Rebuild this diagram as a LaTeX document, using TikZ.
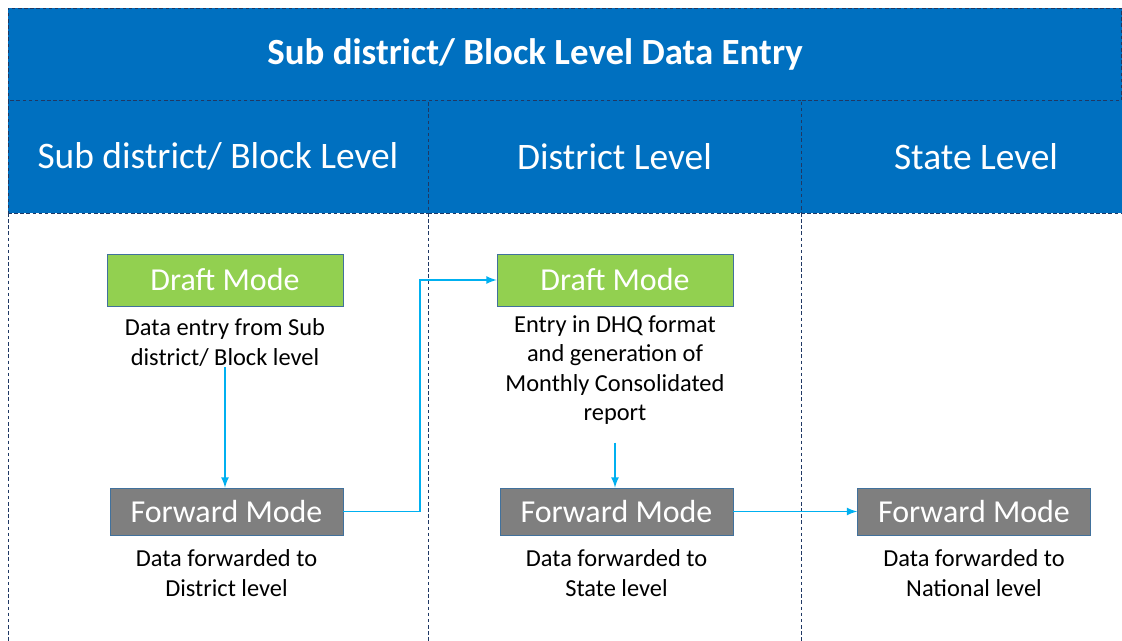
\documentclass[tikz,border=0pt]{standalone}
\usepackage{fontspec}
\setmainfont{Carlito}
\usetikzlibrary{arrows, positioning}

\definecolor{bandblue}{HTML}{0070C0}
\definecolor{edgenavy}{HTML}{1F3864}
\definecolor{draftgreen}{HTML}{92D050}
\definecolor{fwdgrey}{HTML}{7F7F7F}
\definecolor{boxedge}{HTML}{41719C}
\definecolor{flowcyan}{HTML}{00B0F0}

\begin{document}
\begin{tikzpicture}[
            x=0.02cm, y=-0.02cm,
            cell/.style={
                draw=edgenavy, fill=bandblue, dash pattern=on 2pt off 1.5pt,
                anchor=north west, inner sep=0pt, outer sep=0pt,
                minimum height=2.26cm, text=white,
                font=\fontsize{21.3}{25}\selectfont
            },
            divider/.style={draw=edgenavy, dash pattern=on 2pt off 1.5pt},
            mode/.style={
                draw=boxedge, text=white, inner sep=0pt,
                font=\fontsize{18.2}{22}\selectfont
            },
            draftbox/.style={mode, fill=draftgreen, minimum width=4.72cm, minimum height=1.04cm},
            fwdbox/.style={mode, fill=fwdgrey, minimum width=4.66cm, minimum height=0.94cm},
            note/.style={align=center, inner sep=0pt, font=\fontsize{13.9}{16.8}\selectfont},
            flow/.style={-latex, draw=flowcyan, line width=1pt}
        ]
        \useasboundingbox (0, 0) rectangle (1122, 641);

        % header bands
        \node(title)[cell, minimum width=22.28cm, minimum height=1.84cm] at (8, 8) {};
        \node at (535, 54) [text=white, font=\bfseries\fontsize{21}{25}\selectfont] {Sub district/ Block Level Data Entry};
        \node(lvlSub)[cell, minimum width=8.4cm] at (8, 100) {Sub district/ Block Level};
        \node(lvlDist)[cell, minimum width=7.46cm] at (428, 100) {District Level};
        \node(lvlState)[cell, minimum width=6.42cm] at (801, 100) {};
        \node at (976, 157) [text=white, font=\fontsize{21.3}{25}\selectfont] {State Level};

        \foreach \x in {8, 428, 801}
            \draw[divider] (\x, 213) -- (\x, 641);

        % sub district column
        \node(draftSub)[draftbox] at (225, 280) {Draft Mode};
        \node(noteDraftSub)[note, below=7pt of draftSub] {Data entry from Sub\\district/ Block level};
        \node(fwdSub)[fwdbox] at (226.5, 511.5) {Forward Mode};
        \node(noteFwdSub)[note, below=8pt of fwdSub] {Data forwarded to\\District level};

        % district column
        \node(draftDist)[draftbox] at (615, 280) {Draft Mode};
        \node(noteDraftDist)[note, below=5pt of draftDist] {Entry in DHQ format\\and generation of\\Monthly Consolidated\\report};
        \node(fwdDist)[fwdbox] at (616.5, 511.5) {Forward Mode};
        \node(noteFwdDist)[note, below=8pt of fwdDist] {Data forwarded to\\State level};

        % state column
        \node(fwdState)[fwdbox] at (974, 511.5) {Forward Mode};
        \node(noteFwdState)[note, below=8pt of fwdState] {Data forwarded to\\National level};

        % flow arrows
        \coordinate (bend) at (420, 400);
        \draw[flow] (noteDraftSub.south) -- (noteDraftSub.south |- fwdSub.north);
        \draw[flow] (fwdSub.east) -- (fwdSub.east -| bend) |- (draftDist.west);
        \draw[flow, shorten <=10pt] (noteDraftDist.south) -- (noteDraftDist.south |- fwdDist.north);
        \draw[flow] (fwdDist) -- (fwdState);
    \end{tikzpicture}
\end{document}
